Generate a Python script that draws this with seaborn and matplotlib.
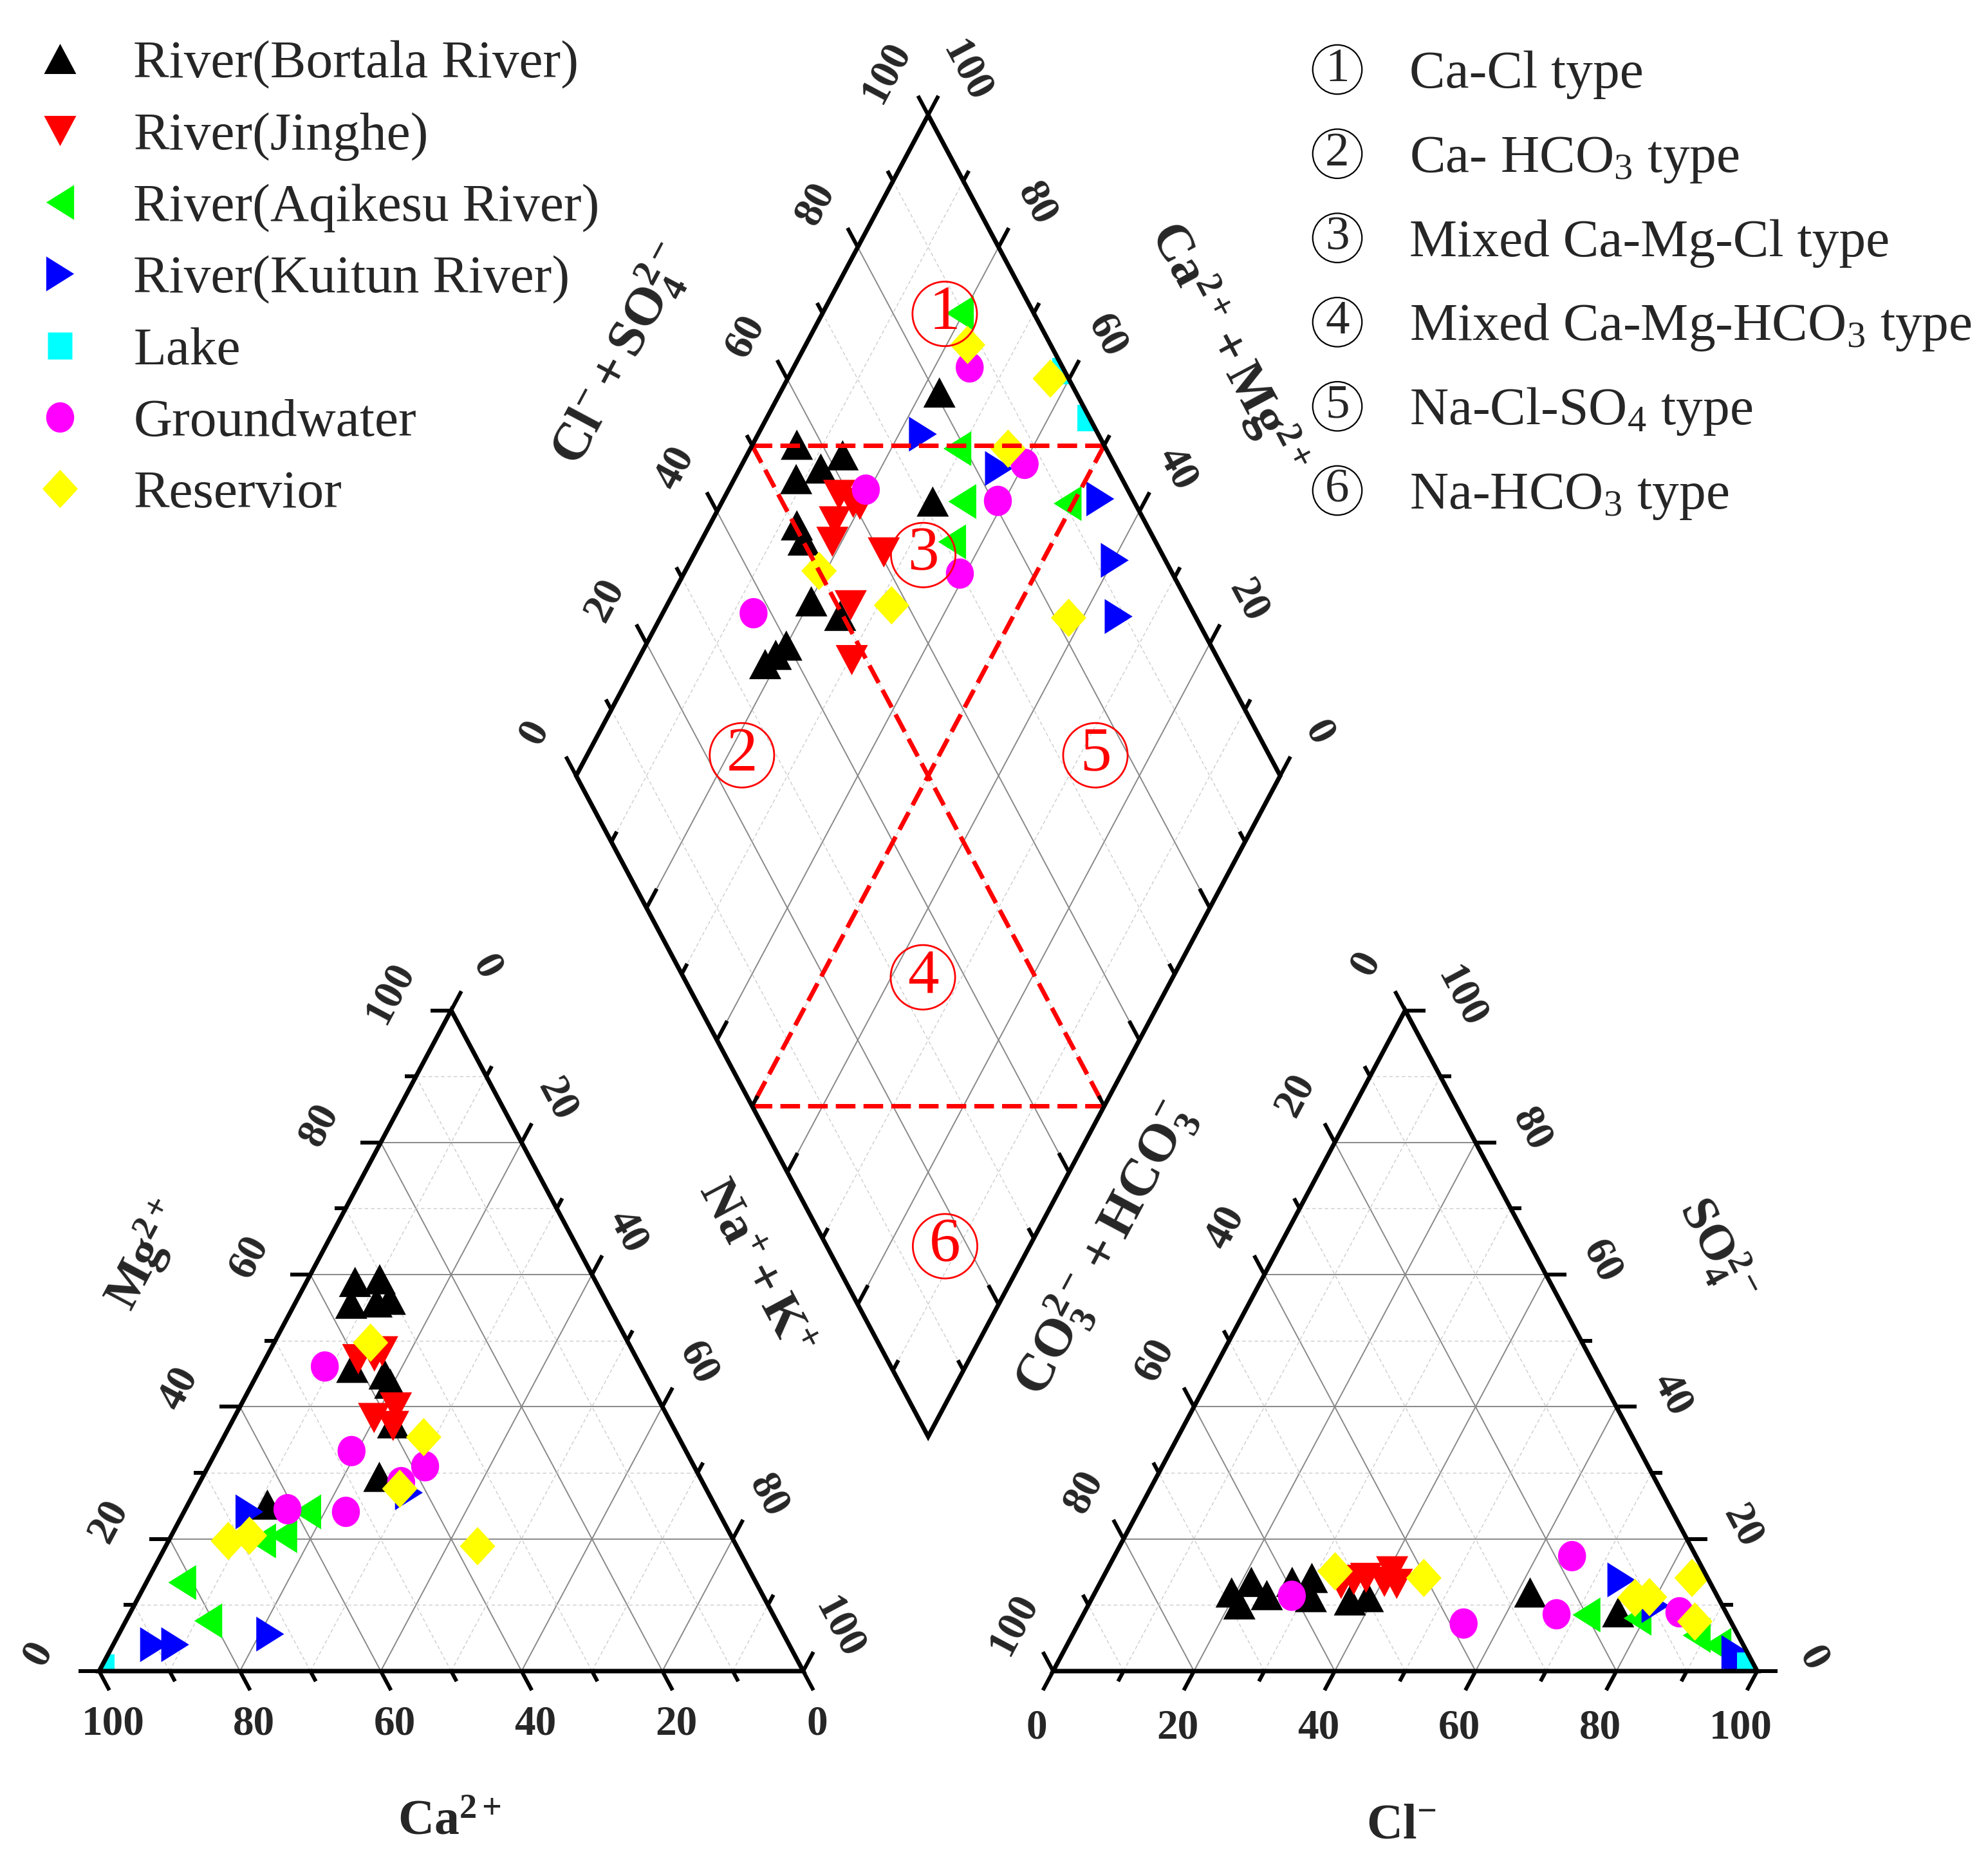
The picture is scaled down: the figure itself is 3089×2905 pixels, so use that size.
import numpy as np
import pandas as pd
import matplotlib
matplotlib.use("Agg")
import matplotlib.pyplot as plt
import seaborn as sns
from matplotlib.path import Path
from matplotlib.lines import Line2D
from matplotlib.patches import Polygon
from matplotlib.collections import LineCollection

groups = ["River(Bortala River)", "River(Jinghe)", "River(Aqikesu River)",
          "River(Kuitun River)", "Lake", "Groundwater", "Reservior"]
colors = ["#000000", "#ff0000", "#00ff00", "#0000ff", "#00ffff", "#ff00ff", "#ffff00"]

# cation triangle: (Ca2+ %, Mg2+ %), Na+ + K+ is the rest
cat_bortala = [(34.2, 58.9), (30.5, 59.3), (36.4, 55.6), (30.6, 56.2), (32.7, 55.8), (41.1, 45.9),
               (37.0, 44.9), (36.9, 43.5), (39.5, 37.5), (45.5, 29.4), (63.5, 25.2)]
cat_jinghe = [(39.6, 47.2), (37.1, 47.6), (35.6, 48.4), (37.9, 39.9), (41.8, 38.3), (39.7, 37.1)]
cat_aqikesu = [(58.4, 24.1), (63.6, 20.5), (67.0, 19.7), (81.5, 13.4), (80.7, 7.6)]
cat_kuitun = [(66.6, 24.1), (42.5, 27.0), (90.2, 4.0), (87.2, 4.0), (72.9, 5.6)]
cat_lake = [(99.3, 0.5)]
cat_ground = [(44.9, 46.1), (47.5, 33.3), (38.2, 31.0), (42.8, 28.6), (52.9, 24.1), (61.0, 24.5)]
cat_reserv = [(36.6, 49.7), (36.2, 35.4), (43.5, 27.6), (71.8, 19.7), (68.4, 20.5), (36.8, 18.9)]

# anion triangle: (Cl- %, SO4 2- %), CO3 + HCO3 is the rest
an_bortala = [(19.4, 11.9), (21.4, 10.1), (21.4, 13.5), (24.6, 11.5), (27.2, 13.5), (29.7, 14.1),
              (31.0, 11.2), (36.8, 10.7), (39.1, 11.2), (61.8, 11.9), (75.8, 8.9)]
an_jinghe = [(34.3, 13.2), (35.8, 13.8), (37.4, 14.1), (40.6, 15.1), (42.2, 13.2), (40.3, 13.5)]
an_aqikesu = [(71.5, 8.5), (79.0, 8.0), (88.7, 5.4), (92.4, 3.9)]
an_kuitun = [(73.8, 13.8), (80.6, 9.9), (95.5, 2.8), (96.5, 1.5)]
an_lake = [(98.5, 0.8)]
an_ground = [(28.2, 11.4), (54.7, 7.2), (65.0, 17.4), (67.2, 8.6), (84.5, 8.9)]
an_reserv = [(32.5, 15.1), (45.6, 14.1), (77.1, 11.1), (79.1, 11.2), (83.7, 14.1), (87.4, 7.5)]

# diamond: (Cl- + SO4 2- %, Na+ + K+ %)
dia_bortala = [(80.6, 22.6), (56.4, 6.3), (62.1, 13.6), (58.0, 11.5), (53.7, 8.8), (71.4, 29.9),
               (50.3, 12.4), (50.1, 14.5), (46.6, 20.2), (49.6, 25.4), (39.7, 20.0), (37.5, 19.2),
               (35.3, 18.4)]
dia_jinghe = [(58.6, 16.1), (60.0, 18.7), (56.0, 17.5), (54.1, 18.7), (60.6, 26.8), (51.9, 26.1),
              (47.9, 30.4), (60.8, 19.8)]
dia_aqikesu = [(89.5, 19.5), (78.9, 29.4), (75.6, 34.1), (71.1, 35.7), (90.4, 49.2)]
dia_kuitun = [(75.1, 23.4), (83.3, 36.8), (95.4, 53.5), (92.8, 60.2), (89.1, 65.0)]
dia_lake = [(100.0, 38.8), (100.0, 45.9)]
dia_ground = [(86.8, 25.0), (62.8, 19.5), (87.3, 40.1), (80.7, 39.1), (69.8, 39.2), (37.5, 12.9)]
dia_reserv = [(88.2, 23.0), (97.4, 37.3), (86.1, 36.6), (50.0, 19.0), (57.7, 31.9), (81.9, 58.0)]

region_names = ["Ca-Cl type", "Ca- HCO$_3$ type", "Mixed Ca-Mg-Cl type",
                "Mixed Ca-Mg-HCO$_3$ type", "Na-Cl-SO$_4$ type", "Na-HCO$_3$ type"]
# where the circled numbers sit in the diamond, as (Cl+SO4 %, Na+K %)
region_pos = [(87.3, 17.4), (25.1, 22.0), (66.0, 32.6), (34.0, 64.5), (75.3, 72.2), (16.8, 88.0)]

# ---- geometry -------------------------------------------------------------
S = np.sqrt(3) / 2
GAP = 0.355
X0 = 1 + GAP
CX = 1 + GAP / 2
YB = GAP * S
K = 1.0835  # the picture is a bit taller than equilateral

XLIM = (-0.1408, 2.6828)
YLIM = (-0.2607, 2.1902)
PX_X = 3089 / (XLIM[1] - XLIM[0])
PX_Y = 2905 / (YLIM[1] - YLIM[0])
ROT = np.degrees(np.arctan2(S * PX_Y, 0.5 * PX_X))


def cat_xy(ca, mg):
    na = 100 - ca - mg
    return (na + mg / 2) / 100, mg / 100 * S


def an_xy(cl, so4):
    return X0 + (cl + so4 / 2) / 100, so4 / 100 * S


def dia_xy(a, n):
    a, n = a / 100, n / 100
    return CX - 0.5 + 0.5 * (a + n), YB + S * (1 + a - n)


def poly_marker(pts):
    pts = np.asarray(pts, float) * [1, K]
    return Path(np.vstack([pts, pts[:1]]), closed=True)


t = np.linspace(0, 2 * np.pi, 64)
markers = {
    groups[0]: poly_marker([(0, 0.433), (-0.5, -0.433), (0.5, -0.433)]),
    groups[1]: poly_marker([(0, -0.433), (0.5, 0.433), (-0.5, 0.433)]),
    groups[2]: poly_marker([(-0.433, 0), (0.433, 0.5), (0.433, -0.5)]),
    groups[3]: poly_marker([(0.433, 0), (-0.433, -0.5), (-0.433, 0.5)]),
    groups[4]: poly_marker([(-0.5, -0.5), (0.5, -0.5), (0.5, 0.5), (-0.5, 0.5)]),
    groups[5]: poly_marker(np.c_[0.5 * np.cos(t[:-1]), 0.5 * np.sin(t[:-1])]),
    groups[6]: poly_marker([(0, 0.5), (0.5, 0), (0, -0.5), (-0.5, 0)]),
}
sizes = dict(zip(groups, [1296, 1296, 1521, 1521, 876, 1150, 1840]))
palette = dict(zip(groups, colors))


def frame(lists, fn):
    rows = []
    for g, pts in zip(groups, lists):
        for p, q in pts:
            x, y = fn(p, q)
            rows.append({"group": g, "x": x, "y": y})
    return pd.DataFrame(rows)


cat_df = frame([cat_bortala, cat_jinghe, cat_aqikesu, cat_kuitun, cat_lake, cat_ground, cat_reserv], cat_xy)
an_df = frame([an_bortala, an_jinghe, an_aqikesu, an_kuitun, an_lake, an_ground, an_reserv], an_xy)
dia_df = frame([dia_bortala, dia_jinghe, dia_aqikesu, dia_kuitun, dia_lake, dia_ground, dia_reserv], dia_xy)

# ---- figure ---------------------------------------------------------------
sns.set_theme(style="white")
plt.rcParams["font.family"] = ["Liberation Serif", "DejaVu Serif"]
plt.rcParams["mathtext.fontset"] = "custom"
plt.rcParams["mathtext.rm"] = "Liberation Serif"
plt.rcParams["mathtext.bf"] = "Liberation Serif:bold"
plt.rcParams["mathtext.it"] = "Liberation Serif:italic"

fig = plt.figure(figsize=(30.89, 29.05), dpi=100)
ax = fig.add_axes([0, 0, 1, 1])
ax.axis("off")

cat_corners = [(0, 0), (1, 0), (0.5, S)]
an_corners = [(X0, 0), (X0 + 1, 0), (X0 + 0.5, S)]
dia_corners = [dia_xy(0, 0), dia_xy(100, 0), dia_xy(100, 100), dia_xy(0, 100)]

# grid lines, every 10 %
solid, dashed = [], []
for v in range(10, 100, 10):
    f = v / 100
    segs = [
        [(0.5 * f, S * f), (1 - 0.5 * f, S * f)],                      # Mg
        [(f, 0), (0.5 + 0.5 * f, S * (1 - f))],                       # Na+K
        [(1 - f, 0), (0.5 * (1 - f), S * (1 - f))],                    # Ca
        [(X0 + 0.5 * f, S * f), (X0 + 1 - 0.5 * f, S * f)],            # SO4
        [(X0 + f, 0), (X0 + 0.5 + 0.5 * f, S * (1 - f))],              # Cl
        [(X0 + 1 - f, 0), (X0 + 0.5 * (1 - f), S * (1 - f))],          # HCO3
        [dia_xy(v, 0), dia_xy(v, 100)],
        [dia_xy(0, v), dia_xy(100, v)],
    ]
    (solid if v % 20 == 0 else dashed).extend(segs)
ax.add_collection(LineCollection(solid, colors="#888888", linewidths=1.4, zorder=1))
ax.add_collection(LineCollection(dashed, colors="#cccccc", linewidths=1.0,
                                 linestyles=(0, (4, 3)), zorder=1))

# outlines (also used to clip the markers)
patches = []
for corners in (cat_corners, an_corners, dia_corners):
    p = Polygon(corners, closed=True, fill=False, ec="black", lw=5, zorder=6, joinstyle="miter")
    ax.add_patch(p)
    patches.append(p)

# points
for df, patch in zip((cat_df, an_df, dia_df), patches):
    sns.scatterplot(data=df, x="x", y="y", hue="group", style="group", size="group",
                    hue_order=groups, style_order=groups, size_order=groups,
                    palette=palette, markers=markers, sizes=sizes,
                    edgecolor="none", linewidth=0, legend=False, ax=ax, zorder=3)
    ax.collections[-1].set_clip_path(patch)

# dividing lines of the diamond
for (a1, n1), (a2, n2) in [((50, 0), (100, 50)), ((0, 50), (50, 100)),
                           ((50, 0), (50, 100)), ((100, 50), (0, 50))]:
    (x1, y1), (x2, y2) = dia_xy(a1, n1), dia_xy(a2, n2)
    ax.plot([x1, x2], [y1, y2], color="red", lw=5, ls=(0, (4.4, 1.8)), zorder=4)

# ticks
ticks = []
UL = np.array([-0.5, S])
UR = np.array([0.5, S])
DL = -UR
DR = -UL
tick_fs = 47
lab_kw = dict(ha="center", va="center", fontsize=tick_fs, fontweight="bold",
              rotation_mode="anchor", zorder=7)


def add_tick(p, d, v):
    p = np.asarray(p, float)
    ln = 0.029 if v % 20 == 0 else 0.0155
    ticks.append([p, p + ln * np.asarray(d)])


for v in range(0, 101, 10):
    f = v / 100
    # cation triangle
    add_tick((1 - f, 0), DR, v)                      # Ca
    add_tick((0.5 * f, S * f), (-1, 0), v)           # Mg
    add_tick((0.5 + 0.5 * f, S * (1 - f)), UR, v)    # Na+K
    # anion triangle
    add_tick((X0 + f, 0), DL, v)                     # Cl
    add_tick((X0 + 0.5 * (1 - f), S * (1 - f)), UL, v)  # CO3+HCO3
    add_tick((X0 + 1 - 0.5 * f, S * f), (1, 0), v)   # SO4
    # diamond
    add_tick(dia_xy(v, 0), UL, v)
    add_tick(dia_xy(100, v), UR, v)
    add_tick(dia_xy(0, v), UR, v)
    add_tick(dia_xy(v, 100), UL, v)
    if v % 20 == 0:
        ax.text(1 - f + 0.0198, -0.0698, str(v), **lab_kw)
        ax.text(0.5 * f - 0.0865, S * f + 0.0233, str(v), rotation=ROT, **lab_kw)
        ax.text(0.5 + 0.5 * f + 0.0503, S * (1 - f) + 0.0565, str(v), rotation=-ROT, **lab_kw)
        ax.text(X0 + f - 0.0234, -0.0748, str(v), **lab_kw)
        ax.text(X0 + 0.5 * (1 - f) - 0.0558, S * (1 - f) + 0.0616, str(v), rotation=ROT, **lab_kw)
        ax.text(X0 + 1 - 0.5 * f + 0.0792, S * f + 0.0166, str(v), rotation=-ROT, **lab_kw)
        x, y = dia_xy(v, 0)
        ax.text(x - 0.0594, y + 0.0565, str(v), rotation=ROT, **lab_kw)
        x, y = dia_xy(100, v)
        ax.text(x + 0.054, y + 0.0565, str(100 - v), rotation=-ROT, **lab_kw)
ax.add_collection(LineCollection(ticks, colors="black", linewidths=4.3, zorder=6))

# axis titles
title_kw = dict(ha="center", va="center", rotation_mode="anchor", zorder=7)
ax.text(0.498, -0.198, r"$\mathbf{Ca^{2+}}$", fontsize=56, **title_kw)
ax.text(0.066, 0.545, r"$\mathbf{Mg^{2+}}$", fontsize=56, rotation=ROT, **title_kw)
ax.text(0.931, 0.528, r"$\mathbf{Na^{+}+K^{+}}$", fontsize=58, rotation=-ROT, **title_kw)
ax.text(1.849, -0.203, r"$\mathbf{Cl^{-}}$", fontsize=56, **title_kw)
ax.text(2.299, 0.553, r"$\mathbf{SO_{4}^{2-}}$", fontsize=56, rotation=-ROT, **title_kw)
ax.text(1.426, 0.553, r"$\mathbf{CO_{3}^{2-}+HCO_{3}^{-}}$", fontsize=60, rotation=ROT, **title_kw)
ax.text(0.741, 1.725, r"$\mathbf{Cl^{-}+SO_{4}^{2-}}$", fontsize=60, rotation=ROT, **title_kw)
ax.text(1.603, 1.734, r"$\mathbf{Ca^{2+}+Mg^{2+}}$", fontsize=58, rotation=-ROT, **title_kw)

# circled region numbers in the diamond
for i, (a, n) in enumerate(region_pos):
    x, y = dia_xy(a, n)
    ax.text(x, y, str(i + 1), color="red", fontsize=70, ha="center", va="center", zorder=8,
            bbox=dict(boxstyle="circle,pad=0.06", fc="none", ec="red", lw=2.0))

# legend of the sample groups
handles = [Line2D([], [], ls="none", marker=markers[g], markersize=np.sqrt(sizes[g]),
                  markerfacecolor=palette[g], markeredgecolor="none") for g in groups]
ax.legend(handles, groups, loc="upper left", bbox_to_anchor=(51.5 / 3089, 1 - 62 / 2905),
          frameon=False, prop={"family": "Liberation Serif", "size": 60}, numpoints=1,
          handlelength=1.0, handletextpad=0.87, labelspacing=0.42, borderpad=0,
          borderaxespad=0)

# legend of the water types
for i, name in enumerate(region_names):
    yc = 1 - (108 + 130.8 * i) / 2905
    ax.text(2078 / 3089, yc, str(i + 1), transform=ax.transAxes, fontsize=54,
            ha="center", va="center",
            bbox=dict(boxstyle="circle,pad=0.06", fc="none", ec="black", lw=1.6))
    ax.text(2190 / 3089, yc - 28 / 2905, name, transform=ax.transAxes, fontsize=60,
            ha="left", va="baseline")

ax.set_xlim(*XLIM)
ax.set_ylim(*YLIM)
fig.savefig("out.png", dpi=100)
